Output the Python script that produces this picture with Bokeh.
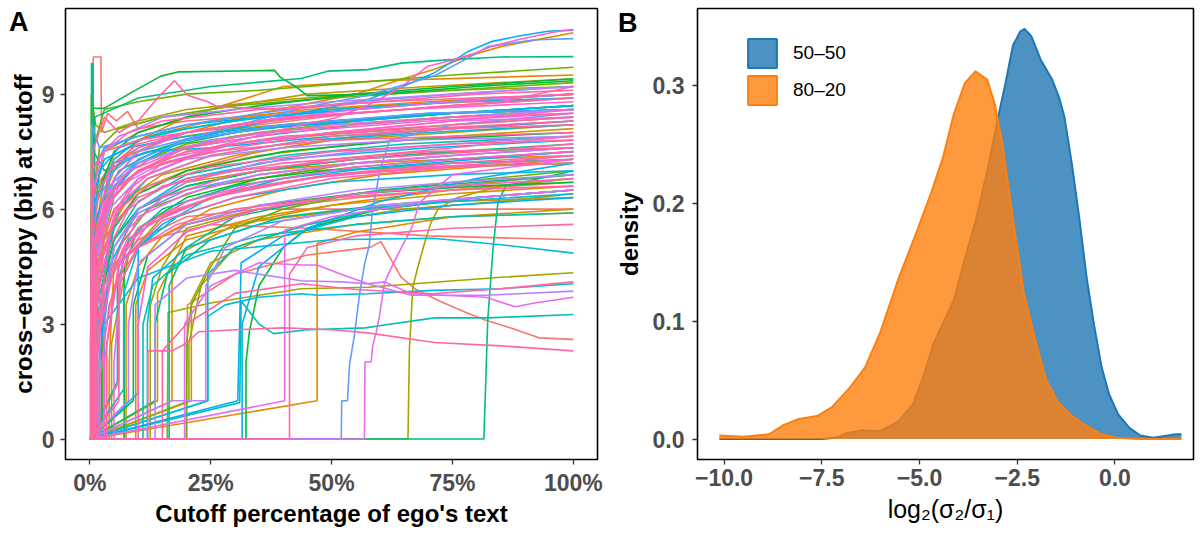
import numpy as np
from bokeh.plotting import figure
from bokeh.layouts import row
from bokeh.models import (ColumnDataSource, FixedTicker, Range1d, Legend, LegendItem, LinearAxis)
from bokeh.embed import file_html
from bokeh.resources import INLINE

FONT = "Liberation Sans"

# ---------------- Panel A data: cross-entropy curves (cutoff %, bits) ----------------
HUE_PALETTE = ["#F8766D", "#E58700", "#C99800", "#A3A500", "#6BB100", "#00BA38", "#00BF7D",
               "#00C0AF", "#00BCD8", "#00B0F6", "#619CFF", "#B983FF", "#E76BF3", "#FD61D1", "#FF67A4"]

CE_LINE_HUE = []
CE_LINE_X = []
CE_LINE_Y = []

def add(h, xs, ys):
    CE_LINE_HUE.append(h); CE_LINE_X.append(xs); CE_LINE_Y.append(ys)

# salmon
add(0, [0,0.7,0.7,2.3,2.4,3.7,5.5,7.8,10,20,40,60,80,100], [0,0,9.97,9.97,8.0,8.5,8.3,8.55,8.1,8.3,8.5,8.7,8.8,8.9])
add(0, [0,20,20.2,30,45,58,60.2,64.4,67.5,72.3,77.8,81.9,88,92.9,100], [0,0,3.5,4.3,4.8,5.0,5.15,4.22,3.9,3.6,3.3,3.1,2.86,2.64,2.6])
add(0, [0,1,1,5,10,20,35,55,75,100], [0,0,3.5,5.6,6.4,7.0,7.5,7.9,8.1,8.3])
add(0, [0,2,2,5,10,20,35,55,75,100], [0,0,2.0,4.0,5.0,5.6,6.0,6.3,6.5,6.7])
add(0, [0,6,6,10,20,35,55,75,100], [0,1.5,4.5,5.2,5.8,6.0,6.0,6.0,6.0])
add(0, [0,0.5,0.5,5,10,20,35,55,75,100], [0,0,6.5,7.2,7.6,8.0,8.2,8.5,8.7,8.9])
add(0, [0,3,3,6,12,25,45,70,100], [0,0.8,3.8,4.6,5.2,5.6,5.5,5.3,5.2])
add(0, [0,0.4,0.4,2,6,15,30,50,75,100], [0,0,3,5.5,6.8,7.5,7.9,8.2,8.4,8.6])
# orange
add(1, [0,47,47,55,75,100], [0,1.0,5.1,5.4,5.8,5.9])
add(1, [0,1,1,5,10,20,35,55,64.4,71.3,78.2,85,92,100], [0,0,5,6.8,7.5,8.0,8.5,9.0,9.39,9.65,9.99,10.24,10.41,10.6])
add(1, [0,0.5,0.5,5,10,20,40,60,100], [0,0,5.5,7.0,7.8,8.4,9.2,9.35,9.5])
add(1, [0,17,17,20,35,55,75,100], [0,1.0,4.5,5.3,5.8,6.2,6.5,6.8])
add(1, [0,4,4,5,10,20,35,55,75,100], [0,0,2.0,4.5,5.5,6.2,6.8,7.2,7.4,7.6])
add(1, [0,9.5,9.5,12,20,35,55,75,100], [0,0,3.5,4.4,5.2,5.7,6.0,6.2,6.3])
add(1, [0,0.2,0.2,1.5,5,12,25,45,70,100], [0,0,4,6.5,7.4,7.9,8.3,8.6,8.8,9.0])
add(1, [0,7.5,7.5,10,15,25,40,60,80,100], [0,0,3.5,4.5,5.3,6.0,6.5,6.9,7.1,7.3])
# gold
add(2, [0,21,21,25,35,55,75,100], [0,1.0,3.6,4.6,5.2,5.6,5.8,6.0])
add(2, [0,0.8,0.8,5,10,20,35,55,75,100], [0,0,4.0,5.8,6.5,7.0,7.4,7.7,7.9,8.1])
add(2, [0,2.5,2.5,5,10,20,35,55,75,100], [0,0,3.0,5.0,6.0,6.7,7.0,7.2,7.3,7.4])
add(2, [0,0.3,0.3,3,10,25,45,70,100], [0,0,6,7.5,8.0,8.6,9.0,9.2,9.4])
add(2, [0,14,14,18,30,50,75,100], [0,1.0,3.8,4.8,5.6,6.1,6.4,6.6])
add(2, [0,1,1,3,8,15,30,50,75,100], [0,0,3.0,5.2,6.3,6.9,7.4,7.8,8.0,8.2])
# olive
add(3, [0,65.8,66.1,66.8,67.8,69.2,70.6,72,75.8,85,100], [0,0,2.35,3.96,4.47,5.1,5.66,6.0,6.29,6.6,6.8])
add(3, [0,16,16.2,25,35,43.7,57.5,71.3,85,100], [0,0,3.3,3.55,3.75,3.92,3.96,4.09,4.22,4.34])
add(3, [0,12.5,12.5,15,20,35,55,75,100], [0,0,3.5,4.5,5.5,6.0,6.4,6.6,6.9])
add(3, [0,1.5,1.5,5,10,20,35,55,75,100], [0,0,4.5,6.3,7.0,7.5,7.8,8.0,8.2,8.4])
add(3, [0,0.3,0.3,1.2,3,10,20,35,55,75,100], [0,0,9.0,8.2,8.0,8.3,8.6,8.8,9.0,9.1,9.2])
add(3, [0,20.5,20.5,23,30,45,65,85,100], [0,1.0,2.5,4.0,5.0,5.6,6.0,6.2,6.4])
add(3, [0,0.6,0.6,3,8,15,30,50,75,100], [0,0,5,6.8,7.4,7.8,8.1,8.3,8.5,8.6])
add(3, [0,4.5,4.5,8,15,30,50,75,100], [0,0,2.5,4.8,5.8,6.5,6.9,7.1,7.2])
# yellow-green
add(4, [0,0.5,0.5,3,10,20,35,55,75,100], [0,0,7.5,8.6,8.8,9.0,9.1,9.3,9.5,9.7])
add(4, [0,20,20,21,25,30,40,55,75,100], [0,0,2.5,3.5,4.5,5.5,6.0,6.4,6.7,7.0])
add(4, [0,1,1,5,10,20,35,55,75,100], [0,0,5,6.5,7.2,7.7,8.0,8.3,8.5,8.7])
add(4, [0,2,2,6,12,25,45,70,100], [0,0,3.0,5.0,6.0,6.6,7.0,7.1,7.2])
add(4, [0,0.3,0.3,2,6,15,30,50,75,100], [0,0,6,7.6,8.1,8.4,8.7,8.9,9.1,9.3])
# green
add(5, [0,0.4,0.4,3,8,14.7,18.2,38.2,39.5,42.3,45,60,80,100], [0,0,8.63,8.63,9.0,9.47,9.58,9.62,9.43,9.22,8.96,9.0,9.2,9.35])
add(5, [0,32.3,32.3,33,34,35,40,45,60,80,100], [0,0,2.0,2.8,3.4,4.0,5.0,5.5,6.0,6.3,6.5])
add(5, [0,7.1,7.1,10,20,35,55,75,100], [0,0,4.5,5.5,6.3,6.8,7.1,7.3,7.5])
add(5, [0,0.5,0.5,5,10,20,35,55,75,100], [0,0,6,7.5,8.0,8.4,8.7,9.0,9.2,9.4])
add(5, [0,1.2,1.2,5,10,20,35,55,75,100], [0,0,3,5.2,6.0,6.6,7.0,7.3,7.5,7.6])
add(5, [0,2.5,2.5,5,10,20,40,65,100], [0,0.5,4.0,5.5,6.4,7.0,7.5,7.8,8.0])
add(5, [0,9,9,12,20,35,55,80,100], [0,1.0,3.5,4.8,5.6,6.1,6.4,6.6,6.7])
# teal-green
add(6, [0,81.5,82.3,83.4,84.4,86,100], [0,0,3.11,4.98,6.17,6.6,7.0])
add(6, [0,1,1,10,25,43.7,49.2,57.5,64.4,74.7,85,100], [0,0,8.4,8.9,9.2,9.41,9.6,9.64,9.81,9.9,9.97,9.98])
add(6, [0,0.35,0.35,0.6,0.8,3,10,20,35,55,75,100], [0,0,9.8,9.8,7.5,7.0,7.4,7.8,8.1,8.3,8.5,8.6])
add(6, [0,16.4,16.4,20,30,45,60,80,100], [0,0,4.0,5.0,5.8,6.2,6.5,6.7,6.9])
add(6, [0,1.5,1.5,5,10,20,35,55,75,100], [0,0,3.5,5.2,6.0,6.6,7.0,7.3,7.5,7.7])
add(6, [0,13.5,13.5,16,25,40,60,80,100], [0,1.0,3.0,4.3,5.2,5.8,6.1,6.3,6.5])
add(6, [0,0.5,0.5,2,6,15,30,50,75,100], [0,0,4,6.0,7.0,7.6,8.0,8.3,8.5,8.7])
# teal
add(7, [0,31,31.3,35,38,45,57,61.6,71.3,82.3,100], [0,0.95,3.6,3.0,2.75,2.85,2.9,2.99,3.16,3.16,3.25])
add(7, [0,24.4,24.4,30,45,60,80,100], [0,1.0,4.3,5.0,5.6,6.0,6.3,6.5])
add(7, [0,0.8,0.8,5,10,20,35,55,75,100], [0,0,5,6.6,7.2,7.6,7.9,8.2,8.4,8.6])
add(7, [0,11,11,13,20,35,55,75,100], [0,0,3.0,4.0,4.8,5.3,5.6,5.8,5.9])
add(7, [0,5.7,5.7,8,15,30,50,75,100], [0,1.5,4.0,5.2,6.0,6.6,7.0,7.2,7.3])
add(7, [0,1.2,1.2,4,10,20,40,65,100], [0,0,2.5,5.0,6.2,6.9,7.4,7.7,7.9])
# cyan
add(8, [0,24.4,24.4,28,35,43.7,47.1,57.5,71,85,100], [0,1.0,3.2,3.5,3.7,3.79,3.75,3.79,3.88,3.92,4.05])
add(8, [0,3,3,10,25,50,71,85,100], [0,0,3.0,4.2,4.9,5.2,5.24,5.07,4.85])
add(8, [0,0.6,0.6,5,10,20,35,55,75,100], [0,0,6,7.3,7.8,8.1,8.4,8.6,8.8,9.0])
add(8, [0,11.9,11.9,13,20,35,55,75,100], [0,0,3.0,4.2,5.0,5.6,6.0,6.2,6.4])
add(8, [0,2,2,6,12,25,45,70,100], [0,0,4.0,6.0,6.8,7.4,7.8,8.0,8.2])
add(8, [0,0.3,0.3,2,6,15,30,50,75,100], [0,0,5,7.0,7.6,8.0,8.3,8.6,8.8,8.9])
add(8, [0,7,7,10,18,30,50,75,100], [0,1.3,3.8,5.0,5.8,6.3,6.7,6.9,7.0])
# sky blue
add(9, [0,30.6,31.3,40,55,75,100], [0,1.0,4.6,5.3,5.8,6.1,6.3])
add(9, [0,1,1,5,10,20,43.7,57.5,64.4,71.3,78.2,83,88.5,94.7,100], [0,0,4.5,6.5,7.2,7.8,8.5,8.86,9.18,9.56,10.11,10.37,10.51,10.64,10.67])
add(9, [0,0.5,0.5,3,10,20,35,55,75,100], [0,0,7.0,7.6,7.9,8.2,8.4,8.6,8.8,9.0])
add(9, [0,1,1,5,10,20,35,55,75,100], [0,0,4.5,6.5,7.3,7.8,8.1,8.3,8.5,8.7])
add(9, [0,10,10,15,25,40,60,80,100], [0,1.2,5.0,5.6,6.3,6.8,7.1,7.3,7.5])
add(9, [0,31.5,31.5,35,45,60,80,100], [0,0,3.0,4.5,5.5,6.2,6.8,7.2])
add(9, [0,0.3,0.3,1,3,8,20,40,70,100], [0,0,3,6.5,7.3,7.6,7.9,8.2,8.5,8.6])
add(9, [0,2,2,4,10,20,40,70,100], [0,0,2,4.5,6.0,6.8,7.3,7.6,7.8])
add(9, [0,0.8,0.8,5,12,25,50,75,100], [0,0,5.5,7.2,7.5,7.6,7.9,8.1,8.3])
# blue / lavender
add(10, [0,52,52.1,53.3,53.7,54.7,55.8,56.8,57.8,58.5,60,62,75,100], [0,0,1.0,1.0,1.93,2.69,3.79,4.55,5.06,6.0,7.0,7.8,8.2,8.5])
add(10, [0,0.5,0.5,5,10,25,43.7,57.5,71.3,78.2,82.3,92,100], [0,0,6.0,7.0,7.5,8.0,8.63,8.97,9.48,9.94,10.24,10.42,10.45])
add(10, [0,0.4,0.4,2,10,20,35,55,75,100], [0,0,8.2,7.6,7.9,8.2,8.5,8.8,9.0,9.2])
add(10, [0,3,3,5,10,20,35,55,75,100], [0,0,3.0,5.0,5.9,6.5,6.9,7.2,7.4,7.6])
add(10, [0,1,1,4,10,20,40,70,100], [0,0,5,6.6,7.3,7.8,8.2,8.5,8.6])
# purple
add(11, [0,13.5,13.5,20,30,43.7,52,57.5,66.5,81.9,100], [0,0,3.5,4.2,4.4,4.13,4.1,4.05,3.75,3.75,3.86])
add(11, [0,0.5,0.5,3,8,15,30,50,75,100], [0,0,6.5,7.5,8.0,8.4,8.6,8.8,9.0,9.2])
add(11, [0,2,2,5,10,20,35,55,75,100], [0,0,3,5.0,6.0,6.7,7.2,7.5,7.7,7.9])
add(11, [0,17,24,24,28,40,60,80,100], [0,1.0,1.0,4.0,5.0,5.7,6.1,6.3,6.5])
add(11, [0,1,1,4,10,20,40,65,100], [0,0,4.5,6.0,6.8,7.3,7.6,7.8,7.9])
add(11, [0,0.4,0.4,1.5,4,10,25,50,75,100], [0,0,2,5.0,6.5,7.2,7.8,8.2,8.4,8.6])
add(11, [0,8,8,10,20,35,55,75,100], [0,1.0,3.0,4.6,5.6,6.1,6.5,6.7,6.9])
# magenta
add(12, [0,56.8,56.9,58.2,58.5,59.2,59.9,60.9,62,63.7,65.1,66.5,68.2,75,100], [0,0,2.01,2.01,2.43,2.77,3.2,4.05,4.38,4.81,5.15,5.49,6.17,6.9,7.3])
add(12, [0,40.3,40.3,50,70,100], [0,1.0,5.45,5.8,6.2,6.5])
add(12, [0,19.6,19.6,25,35,43.7,47,52,57.5,61,66.5,81.9,88,92,100], [0,0,3.0,4.0,4.6,4.54,4.54,4.3,4.05,4.1,3.79,3.7,3.45,3.55,3.7])
add(12, [0,1,1,5,10,20,35,55,75,100], [0,0,5,6.8,7.5,8.0,8.3,8.6,8.8,9.0])
add(12, [0,5,5,7,10,20,35,55,75,100], [0,0,2.0,5.0,5.8,6.4,6.9,7.2,7.4,7.6])
add(12, [0,0.5,0.5,2,6,15,30,50,75,100], [0,0,3.5,5.5,6.6,7.2,7.7,8.0,8.3,8.4])
# pink-magenta
add(13, [0,2,2,5,10,25,43.7,50.6,57.5,64.4,69.9,74.7,79.6,83,88.5,96.1,100], [0,0,4,5.8,6.8,7.6,8.2,8.37,8.71,9.18,9.73,9.88,10.07,10.24,10.42,10.62,10.69])
add(13, [0,0.3,0.3,3,8,15,30,50,75,100], [0,0,4,6.0,6.8,7.3,7.7,8.0,8.3,8.6])
add(13, [0,1.5,1.5,5,10,20,35,55,75,100], [0,0,2.5,4.5,5.5,6.2,6.7,7.1,7.3,7.5])
add(13, [0,10,10,12,20,35,55,75,100], [0,0,3.0,4.5,5.4,6.0,6.4,6.6,6.8])
add(13, [0,0.6,0.6,4,10,20,40,65,100], [0,0,5,7.0,7.6,8.0,8.4,8.6,8.8])
add(13, [0,0.2,0.2,1,3,8,20,40,70,100], [0,0,3,5,6.2,7.0,7.6,8.0,8.3,8.5])
add(13, [0,3,3,6,12,25,45,70,100], [0,0,2.0,4.5,5.6,6.3,6.8,7.1,7.3])
# pink
add(14, [0,41.3,41.3,45,55,75,100], [0,0,4.3,5.0,5.3,5.5,5.6])
add(14, [0,12,12,17,20,22.5,30,40,50,57.5,71.3,85,100], [0,0,2.3,2.3,2.5,2.8,2.85,2.9,2.85,2.77,2.52,2.43,2.3])
add(14, [0,15,15,20,30,43.7,55,71,85,100], [0,0,2.3,3.0,3.8,4.05,3.9,3.79,3.92,4.1])
add(14, [0,0.6,0.6,3,6,10,14,17.5,20.2,24.4,26.4,40,60,80,100], [0,0,7.5,8.4,8.0,8.3,8.9,9.35,8.97,8.8,8.67,8.6,8.8,9.0,9.1])
add(14, [0,0.3,0.3,2,5,10,20,35,55,75,100], [0,0,5,6.5,7.2,7.7,8.0,8.3,8.5,8.7,8.9])
add(14, [0,0.5,0.5,3,8,15,30,50,75,100], [0,0,3,5.5,6.5,7.2,7.6,8.0,8.2,8.4])
add(14, [0,1,1,3,8,15,30,50,75,100], [0,0,2,4.0,5.5,6.3,6.9,7.3,7.6,7.9])
add(14, [0,2,2,4,8,15,30,50,75,100], [0,0,1.5,3.5,4.8,5.7,6.3,6.8,7.1,7.4])
add(14, [0,0.3,0.3,3,10,25,45,65,85,100], [0,0,7,7.5,7.8,8.1,8.4,8.6,8.8,9.2])
add(14, [0,3.5,3.5,6,10,18,30,50,75,100], [0,0,2.5,4.6,5.4,6.0,6.5,6.9,7.2,7.4])
add(14, [0,6,6,10,18,30,50,75,100], [0,1.0,4,5.0,5.6,6.0,6.3,6.5,6.6])
add(14, [0,0.8,0.8,4,10,20,35,55,75,100], [0,0,4.5,6.2,7.0,7.6,8.0,8.2,8.4,8.5])
add(14, [0,0.2,0.2,1,2,5,10,20,40,70,100], [0,0,2,4,5.5,6.5,7.0,7.5,7.9,8.1,8.3])
add(14, [0,0.4,0.4,1.5,3,6,12,25,50,75,100], [0,0,1.5,3.5,5.0,6.0,6.6,7.1,7.5,7.7,7.8])
add(14, [0,1.5,1.5,4,8,15,30,55,80,100], [0,0,3.0,5.0,6.0,6.6,7.0,7.3,7.5,7.7])
add(14, [0,0.2,0.2,0.8,2,5,12,25,50,75,100], [0,0,1,3,4.8,6.0,6.8,7.4,7.9,8.1,8.2])
add(14, [0,0.6,0.6,2,5,10,20,40,70,100], [0,0,2.5,4.5,5.6,6.3,6.8,7.2,7.5,7.6])
add(14, [0,1.2,1.2,3,7,14,28,50,75,100], [0,0,1.8,3.8,5.0,5.8,6.4,6.9,7.1,7.2])
add(14, [0,0.4,0.4,2,6,15,35,60,100], [0,0,6,7.4,7.9,8.3,8.6,8.8,9.0])
add(14, [0,0.1,0.1,0.6,1.5,4,10,25,50,100], [0,0,2.5,4.5,5.5,6.4,7.0,7.5,7.8,8.0])

X_TICKS_A = [0, 25, 50, 75, 100]
X_TICK_LABELS_A = ["0%", "25%", "50%", "75%", "100%"]
Y_TICKS_A = [0, 3, 6, 9]

# ---------------- Panel B data: densities ----------------
DENS_X_5050 = [-10.12,-9.0,-8.0,-7.5,-7.15,-6.86,-6.48,-6.01,-5.54,-5.16,-4.88,-4.64,-4.40,-4.12,-3.84,-3.55,-3.27,-2.99,-2.80,-2.61,-2.42,-2.31,-2.14,-1.90,-1.62,-1.43,-1.29,-1.10,-0.91,-0.72,-0.53,-0.34,-0.15,0.08,0.37,0.65,0.98,1.36,1.55,1.70]
DENS_Y_5050 = [0.0,0.0,0.0,0.0,0.001,0.005,0.0075,0.0066,0.015,0.030,0.055,0.081,0.098,0.118,0.153,0.187,0.227,0.273,0.302,0.334,0.346,0.348,0.342,0.322,0.306,0.290,0.273,0.233,0.187,0.136,0.096,0.061,0.038,0.021,0.0095,0.003,0.001,0.003,0.004,0.004]
DENS_X_8020 = [-10.12,-9.5,-8.85,-8.47,-8.09,-7.62,-7.24,-6.77,-6.39,-6.01,-5.54,-5.07,-4.69,-4.40,-4.12,-3.84,-3.57,-3.27,-3.08,-2.89,-2.61,-2.33,-2.04,-1.76,-1.47,-1.10,-0.72,-0.34,0.04,0.6,1.2,1.70]
DENS_Y_8020 = [0.003,0.002,0.004,0.012,0.017,0.0195,0.027,0.044,0.061,0.090,0.136,0.176,0.210,0.239,0.276,0.302,0.312,0.305,0.285,0.253,0.187,0.124,0.084,0.050,0.032,0.0195,0.011,0.004,0.001,0.0,0.0,0.0]
GROUPS_B = ["50\u201350", "80\u201320"]
FILL_B = ["#1F77B4", "#FF7F0E"]
X_TICKS_B = [-10.0, -7.5, -5.0, -2.5, 0.0]
X_TICK_LABELS_B = ["\u221210.0", "\u22127.5", "\u22125.0", "\u22122.5", "0.0"]
Y_TICKS_B = [0.0, 0.1, 0.2, 0.3]
Y_TICK_LABELS_B = ["0.0", "0.1", "0.2", "0.3"]

TICK_FONT = "23px"
TITLE_FONT = "24px"


def style(p, title_bold=True):
    p.outline_line_color = "black"
    p.outline_line_width = 1.6
    p.outline_line_alpha = 1
    p.background_fill_color = "white"
    p.border_fill_color = "white"
    p.xgrid.grid_line_color = None
    p.ygrid.grid_line_color = None
    for ax in (p.xaxis[0], p.yaxis[0]):
        ax.axis_line_color = None
        ax.major_tick_line_color = "#333333"
        ax.major_tick_line_width = 1.3
        ax.major_tick_in = 0
        ax.major_tick_out = 5
        ax.minor_tick_line_color = None
        ax.major_label_text_font = FONT
        ax.major_label_text_font_style = "bold"
        ax.major_label_text_font_size = TICK_FONT
        ax.major_label_text_color = "#4D4D4D"
        ax.axis_label_text_font = FONT
        ax.axis_label_text_font_size = TITLE_FONT
        ax.axis_label_text_color = "black"
    p.yaxis[0].axis_label_text_font_style = "bold"
    p.xaxis[0].axis_label_text_font_style = "bold" if title_bold else "normal"


def panel_tag(p, letter, y_pos, standoff):
    # panel letter drawn as the only label of an extra, line-less left axis
    ax = LinearAxis(ticker=FixedTicker(ticks=[y_pos]), major_label_overrides={y_pos: letter},
                    axis_line_color=None, major_tick_line_color=None, minor_tick_line_color=None,
                    major_tick_out=0, major_tick_in=0, major_label_standoff=standoff,
                    major_label_text_font=FONT, major_label_text_font_style="bold",
                    major_label_text_font_size="27px", major_label_text_color="black")
    p.add_layout(ax, "left")


# ---------------- Panel A ----------------
pA = figure(width=612, height=533, x_range=Range1d(-5.03, 105.0), y_range=Range1d(-0.535, 11.235),
            output_backend="svg", toolbar_location=None,
            min_border_left=65, min_border_right=15, min_border_top=8, min_border_bottom=65)
style(pA)
srcA = ColumnDataSource(dict(xs=CE_LINE_X, ys=CE_LINE_Y, color=[HUE_PALETTE[h] for h in CE_LINE_HUE]))
pA.multi_line(xs="xs", ys="ys", line_color="color", line_width=1.6, source=srcA)
pA.xaxis[0].ticker = FixedTicker(ticks=X_TICKS_A)
pA.xaxis[0].major_label_overrides = {t: l for t, l in zip(X_TICKS_A, X_TICK_LABELS_A)}
pA.yaxis[0].ticker = FixedTicker(ticks=Y_TICKS_A)
pA.xaxis[0].axis_label = "Cutoff percentage of ego's text"
pA.yaxis[0].axis_label = "cross\u2212entropy (bit) at cutoff"
pA.xaxis[0].major_label_standoff = 5
pA.xaxis[0].axis_label_standoff = 1
pA.yaxis[0].major_label_standoff = 6
pA.yaxis[0].axis_label_standoff = 2
panel_tag(pA, "A", 10.87, -22)

# ---------------- Panel B ----------------
pB = figure(width=589, height=533, x_range=Range1d(-10.68, 2.01), y_range=Range1d(-0.0174, 0.3654),
            output_backend="svg", toolbar_location=None,
            min_border_left=84, min_border_right=8, min_border_top=8, min_border_bottom=74)
style(pB, title_bold=False)
pB.varea(x=DENS_X_5050, y1=0, y2=DENS_Y_5050, fill_color=FILL_B[0], fill_alpha=0.8)
pB.line(x=DENS_X_5050, y=DENS_Y_5050, line_color=FILL_B[0], line_width=2)
pB.varea(x=DENS_X_8020, y1=0, y2=DENS_Y_8020, fill_color=FILL_B[1], fill_alpha=0.8)
pB.line(x=DENS_X_8020, y=DENS_Y_8020, line_color=FILL_B[1], line_width=2)
# legend keys (nothing drawn in the plot area: NaN placeholders)
key0 = pB.patch(x=np.array([np.nan]), y=np.array([np.nan]), fill_color=FILL_B[0], fill_alpha=0.8,
                line_color=FILL_B[0], line_width=2)
key1 = pB.patch(x=np.array([np.nan]), y=np.array([np.nan]), fill_color=FILL_B[1], fill_alpha=0.8,
                line_color=FILL_B[1], line_width=2)
legB = Legend(items=[LegendItem(label=GROUPS_B[0], renderers=[key0]),
                     LegendItem(label=GROUPS_B[1], renderers=[key1])],
              location=(47, 351), glyph_width=36, glyph_height=36, label_height=36, spacing=1,
              padding=0, margin=0, border_line_color=None, background_fill_alpha=0,
              label_standoff=13, label_text_font=FONT, label_text_font_size="19px", label_text_color="black")
pB.add_layout(legB)
pB.xaxis[0].ticker = FixedTicker(ticks=X_TICKS_B)
pB.xaxis[0].major_label_overrides = {t: l for t, l in zip(X_TICKS_B, X_TICK_LABELS_B)}
pB.yaxis[0].ticker = FixedTicker(ticks=Y_TICKS_B)
pB.yaxis[0].major_label_overrides = {t: l for t, l in zip(Y_TICKS_B, Y_TICK_LABELS_B)}
pB.xaxis[0].axis_label = "log\u2082(\u03c3\u2082/\u03c3\u2081)"
pB.yaxis[0].axis_label = "density"
pB.xaxis[0].major_label_standoff = 4
pB.xaxis[0].axis_label_standoff = 6
pB.yaxis[0].major_label_standoff = 8
pB.yaxis[0].axis_label_standoff = 7
pB.xaxis[0].axis_label_text_font_size = "25px"
panel_tag(pB, "B", 0.3535, -25)

layout = row(pA, pB, spacing=0)
open("out.html", "w").write(file_html(layout, INLINE))
